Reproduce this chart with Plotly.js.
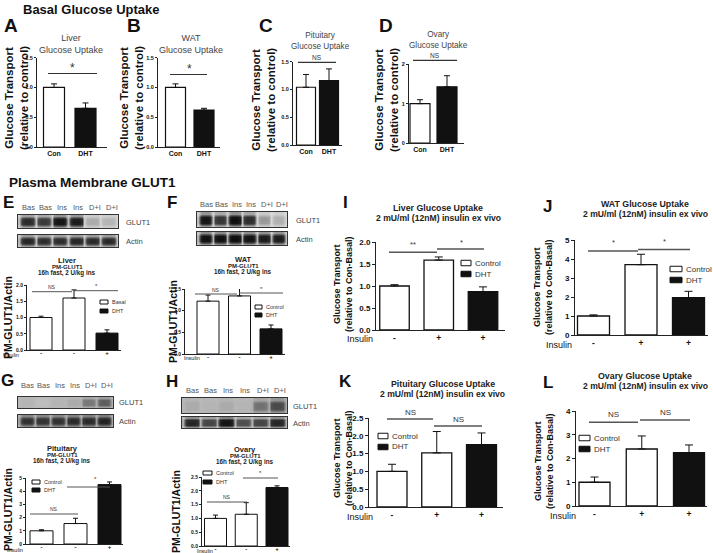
<!DOCTYPE html>
<html><head><meta charset="utf-8">
<script src="https://cdn.plot.ly/plotly-3.0.1.min.js"></script>
<style>html,body{margin:0;padding:0;background:#fff}#chart{width:713px;height:553px}</style>
</head><body><div id="chart"></div>
<script>
// ================= DATA =================
const basalCats = ['Con', 'DHT'];
const liverBasal = [1.00, 0.65];  const liverBasalErr = [0.06, 0.09];
const watBasal   = [1.00, 0.62];  const watBasalErr   = [0.06, 0.03];
const pitBasal   = [1.04, 1.16];  const pitBasalErr   = [0.23, 0.21];
const ovaBasal   = [1.00, 1.43];  const ovaBasalErr   = [0.10, 0.28];

const pmInsulin = ['-', '-', '+'];
const liverPM = [1.00, 1.60, 0.52]; const liverPMErr = [0.04, 0.25, 0.10];
const watPM   = [1.22, 1.34, 0.58]; const watPMErr   = [0.14, 0.18, 0.09];
const pitPM   = [1.00, 1.55, 4.50]; const pitPMErr   = [0.08, 0.40, 0.20];
const ovaPM   = [1.00, 1.15, 2.12]; const ovaPMErr   = [0.12, 0.42, 0.06];

const exInsulin = ['-', '+', '+'];
const liverEx = [1.00, 1.59, 0.87]; const liverExErr = [0.03, 0.07, 0.11];
const watEx   = [1.00, 3.70, 1.97]; const watExErr   = [0.06, 0.55, 0.33];
const pitEx   = [1.00, 1.52, 1.75]; const pitExErr   = [0.20, 0.60, 0.33];
const ovaEx   = [1.00, 2.40, 2.25]; const ovaExErr   = [0.22, 0.55, 0.32];

const ticks15 = [0, 0.5, 1.0, 1.5];
const ticks2i = [0, 1, 2];
const ticks20 = [0, 0.5, 1.0, 1.5, 2.0];
const ticks5  = [0, 1, 2, 3, 4, 5];
const ticks25 = [0, 0.5, 1.0, 1.5, 2.0, 2.5];
const ticks4  = [0, 1, 2, 3, 4];

const laneLabels = ['Bas', 'Bas', 'Ins', 'Ins', 'D+I', 'D+I'];
// western blot band intensities (0 = blank, 1 = darkest)
const liverGlut1 = [0.82, 0.74, 0.94, 0.90, 0.34, 0.30];
const liverActin = [0.84, 0.80, 0.80, 0.84, 0.82, 0.82];
const watGlut1   = [0.94, 0.76, 0.98, 0.80, 0.40, 0.32];
const watActin   = [0.97, 0.97, 0.99, 0.95, 0.90, 0.90];
const pitGlut1   = [0.30, 0.26, 0.30, 0.34, 0.50, 0.58];
const pitActin   = [0.78, 0.78, 0.78, 0.82, 0.82, 0.86];
const ovaGlut1   = [0.34, 0.30, 0.34, 0.30, 0.52, 0.66];
const ovaActin   = [0.84, 0.68, 0.94, 0.64, 0.68, 0.84];

// ================= LAYOUT / STYLE =================
const W = 713, H = 553;
const FONT = 'Liberation Sans, Arial, Helvetica, sans-serif';
const px = x => x / W, py = y => 1 - y / H;
const fmt = (v, d) => v.toFixed(d);

const styles = {
  basal: {ytf: 5.5, xtf: 7, tl: 2, cap: 3, lw: 1.2, so: 0},
  pm:    {ytf: 5,   xtf: 6, tl: 2, cap: 2.5, lw: 1, so: -3},
  ex:    {ytf: 8,   xtf: 8.5, tl: 3, cap: 4, lw: 1.3, so: 0}
};
const W2 = ['#ffffff', '#111111'];
const W3 = ['#ffffff', '#ffffff', '#111111'];

const charts = [
  {v: liverBasal, e: liverBasalErr, lab: basalCats, col: W2, tk: ticks15, dec: 1, s: 'basal', axL: 37,  axR: 107, top: 57.7, bot: 147, c0: 54,    cN: 85.5,  bw: 21},
  {v: watBasal,   e: watBasalErr,   lab: basalCats, col: W2, tk: ticks15, dec: 1, s: 'basal', axL: 158, axR: 220, top: 57.7, bot: 147, c0: 175.5, cN: 204,   bw: 20},
  {v: pitBasal,   e: pitBasalErr,   lab: basalCats, col: W2, tk: ticks15, dec: 1, s: 'basal', axL: 293, axR: 342, top: 61.7, bot: 145, c0: 306,   cN: 329,   bw: 19},
  {v: ovaBasal,   e: ovaBasalErr,   lab: basalCats, col: W2, tk: ticks2i, dec: 0, s: 'basal', axL: 409, axR: 464, top: 64.3, bot: 143, c0: 420,   cN: 447,   bw: 20},
  {v: liverPM, e: liverPMErr, lab: pmInsulin, col: W3, tk: ticks20, dec: 1, s: 'pm', axL: 27,  axR: 121, top: 285, bot: 350, c0: 41,    cN: 107,   bw: 22},
  {v: watPM,   e: watPMErr,   lab: pmInsulin, col: W3, tk: ticks15, dec: 1, s: 'pm', axL: 185, axR: 285, top: 289, bot: 354, c0: 208,   cN: 271,   bw: 22},
  {v: pitPM,   e: pitPMErr,   lab: pmInsulin, col: W3, tk: ticks5,  dec: 0, s: 'pm', axL: 26,  axR: 123, top: 478, bot: 544, c0: 41.5,  cN: 109.5, bw: 23},
  {v: ovaPM,   e: ovaPMErr,   lab: pmInsulin, col: W3, tk: ticks25, dec: 1, s: 'pm', axL: 202, axR: 290, top: 477, bot: 546, c0: 215.5, cN: 277,   bw: 22},
  {v: liverEx, e: liverExErr, lab: exInsulin, col: W3, tk: ticks20, dec: 1, s: 'ex', axL: 376, axR: 505, top: 242, bot: 330, c0: 394.5, cN: 483,   bw: 29.5},
  {v: watEx,   e: watExErr,   lab: exInsulin, col: W3, tk: ticks5,  dec: 0, s: 'ex', axL: 575, axR: 708, top: 240, bot: 335, c0: 593.5, cN: 688.5, bw: 32},
  {v: pitEx,   e: pitExErr,   lab: exInsulin, col: W3, tk: ticks25, dec: 1, s: 'ex', axL: 369, axR: 503, top: 418, bot: 507, c0: 392,   cN: 481.5, bw: 30},
  {v: ovaEx,   e: ovaExErr,   lab: exInsulin, col: W3, tk: ticks4,  dec: 0, s: 'ex', axL: 576, axR: 707, top: 411, bot: 506, c0: 594.5, cN: 689,   bw: 31}
];

const blots = [
  {b: liverGlut1, bg: 0.14, x0: 18,  x1: 118, y0: 215, y1: 228},
  {b: liverActin, bg: 0.16, x0: 18,  x1: 118, y0: 235, y1: 247},
  {b: watGlut1,   bg: 0.12, x0: 197, x1: 287, y0: 212, y1: 227},
  {b: watActin,   bg: 0.16, x0: 197, x1: 287, y0: 232, y1: 245},
  {b: pitGlut1,   bg: 0.28, x0: 18,  x1: 113, y0: 397, y1: 408},
  {b: pitActin,   bg: 0.28, x0: 18,  x1: 113, y0: 415, y1: 427},
  {b: ovaGlut1,   bg: 0.28, x0: 182, x1: 287, y0: 398, y1: 413},
  {b: ovaActin,   bg: 0.22, x0: 182, x1: 287, y0: 417, y1: 428}
];

const data = [];
const layout = {
  width: W, height: H, margin: {l: 0, r: 0, t: 0, b: 0},
  paper_bgcolor: '#ffffff', plot_bgcolor: 'rgba(0,0,0,0)',
  showlegend: false, font: {family: FONT, color: '#111'},
  shapes: [], annotations: []
};

let n = 0;
charts.forEach(c => {
  n++;
  const st = styles[c.s];
  const xa = n === 1 ? 'x' : 'x' + n, ya = n === 1 ? 'y' : 'y' + n;
  const u = (c.cN - c.c0) / (c.v.length - 1);
  const idx = c.v.map((_, i) => i);
  data.push({
    type: 'bar', x: idx, y: c.v, width: c.bw / u, xaxis: xa, yaxis: ya,
    marker: {color: c.col, line: {color: '#111', width: st.lw}},
    error_y: {type: 'data', symmetric: false, array: c.e, arrayminus: c.e.map(() => 0),
              color: '#111', thickness: 1, width: st.cap},
    hoverinfo: 'skip', showlegend: false
  });
  layout[n === 1 ? 'xaxis' : 'xaxis' + n] = {
    domain: [px(c.axL), px(c.axR)], range: [(c.axL - c.c0) / u, (c.axR - c.c0) / u],
    anchor: ya, showline: true, linecolor: '#222', linewidth: 1, ticks: '',
    ticklabelstandoff: st.so,
    tickvals: idx, ticktext: c.lab, tickfont: {size: st.xtf, family: FONT, weight: 'bold', color: '#111'},
    showgrid: false, zeroline: false, fixedrange: true
  };
  layout[n === 1 ? 'yaxis' : 'yaxis' + n] = {
    domain: [py(c.bot), py(c.top)], range: [0, c.tk[c.tk.length - 1]],
    anchor: xa, showline: true, linecolor: '#222', linewidth: 1,
    ticks: 'outside', ticklen: st.tl, tickwidth: 1, tickcolor: '#222',
    tickvals: c.tk, ticktext: c.tk.map(t => fmt(t, c.dec)),
    tickfont: {size: st.ytf, family: FONT, weight: 'bold', color: '#111'},
    showgrid: false, zeroline: false, fixedrange: true
  };
});

// western blots as smoothed heatmaps
blots.forEach(bl => {
  n++;
  const xa = 'x' + n, ya = 'y' + n;
  const colW = [0.2, 0.9, 1, 1, 1, 0.9];
  const rowW = [0.35, 0.95, 1, 0.95, 0.35];
  const xs = [];
  for (let k = 0; k <= 36; k++) xs.push(k / 6);
  const z = rowW.map(rw => xs.map((_, k) => {
    const lane = Math.min(Math.floor(k / 6), 5);
    const w = k === 36 ? 0.15 : colW[k % 6];
    return bl.bg + (bl.b[lane] - bl.bg) * w * rw;
  }));
  data.push({
    type: 'heatmap', z: z, x: xs, y: [0, 1, 2, 3, 4], zmin: 0, zmax: 1, zsmooth: 'best',
    colorscale: [[0, '#f2f2f2'], [0.15, '#d8d8d8'], [0.35, '#a8a8a8'], [0.6, '#555555'], [0.85, '#222222'], [1, '#0a0a0a']],
    showscale: false, hoverinfo: 'skip', xaxis: xa, yaxis: ya
  });
  layout['xaxis' + n] = {domain: [px(bl.x0), px(bl.x1)], range: [-1 / 12, 6 + 1 / 12], anchor: ya,
    showline: true, mirror: true, linecolor: '#333', linewidth: 1, ticks: '', showticklabels: false,
    showgrid: false, zeroline: false, fixedrange: true};
  layout['yaxis' + n] = {domain: [py(bl.y1), py(bl.y0)], range: [-0.5, 4.5], anchor: xa,
    showline: true, mirror: true, linecolor: '#333', linewidth: 1, ticks: '', showticklabels: false,
    showgrid: false, zeroline: false, fixedrange: true};
});

// ---------- helpers for text / shapes ----------
function ann(text, x, y, size, o) {
  o = o || {};
  layout.annotations.push(Object.assign({
    text: text, x: px(x), y: py(y), xref: 'paper', yref: 'paper', showarrow: false,
    xanchor: 'center', yanchor: 'middle', borderpad: 0,
    font: {family: FONT, size: size, color: o.color || '#111', weight: o.bold ? 'bold' : 'normal'}
  }, o.extra || {}));
}
function hline(x0, x1, y, color, w) {
  layout.shapes.push({type: 'line', xref: 'paper', yref: 'paper', x0: px(x0), x1: px(x1), y0: py(y), y1: py(y),
    line: {color: color, width: w}});
}
function box(x0, x1, yc, h, fill) {
  layout.shapes.push({type: 'rect', xref: 'paper', yref: 'paper', x0: px(x0), x1: px(x1),
    y0: py(yc + h / 2), y1: py(yc - h / 2), fillcolor: fill, line: {color: '#111', width: 1}});
}

// headings
ann('Basal Glucose Uptake', 22, 9.5, 13, {bold: true, extra: {xanchor: 'left'}});
ann('Plasma Membrane GLUT1', 8, 182.5, 13.5, {bold: true, extra: {xanchor: 'left'}});

// panel letters
[['A', 11, 26, 19], ['B', 134, 26, 19], ['C', 266, 26, 19], ['D', 386, 26, 19],
 ['E', 8, 203, 17], ['F', 172, 203, 17], ['G', 7, 380, 17], ['H', 172, 381, 17],
 ['I', 345, 202, 17], ['J', 547, 206, 17], ['K', 345, 381, 17], ['L', 548, 382, 17]]
  .forEach(l => ann(l[0], l[1], l[2], l[3], {bold: true}));

// basal panel titles & y titles
const basalYT = 'Glucose Transport<br>(relative to control)';
ann('Liver<br>Glucose Uptake', 70.5, 44.5, 9, {color: '#444'});
ann('WAT<br>Glucose Uptake', 191, 44.5, 9, {color: '#444'});
ann('Pituitary<br>Glucose Uptake', 320, 40.8, 8.2, {color: '#444'});
ann('Ovary<br>Glucose Uptake', 439, 40, 8.2, {color: '#444'});
[[16, 98], [131, 98], [263, 100], [386, 100]].forEach(p =>
  ann(basalYT, p[0], p[1], 11.5, {bold: true, extra: {textangle: -90}}));

// PM panels
[['Liver', 67, 260], ['WAT', 243, 259.3], ['Pituitary', 62, 448.3], ['Ovary', 245, 449.3]].forEach(t => {
  ann(t[0], t[1], t[2], 7.5, {bold: true, color: '#222'});
  ann('PM-GLUT1', t[1], t[2] + 6.5, 6, {bold: true, color: '#222'});
  ann('16h fast, 2 U/kg ins', t[1], t[2] + 13, 6.3, {bold: true, color: '#222'});
});
[[8, 318], [173, 322], [8, 510], [176, 512]].forEach(p =>
  ann('PM-GLUT1/Actin', p[0], p[1], 10.5, {bold: true, extra: {textangle: -90}}));
[[2, 355], [183, 358], [6, 549.5], [196, 550.5]].forEach(p =>
  ann('Insulin', p[0], p[1], 5.5, {extra: {xanchor: 'left'}}));

// blot labels
[[blots[0], 207], [blots[2], 204], [blots[4], 385], [blots[6], 390]].forEach(pr => {
  const bl = pr[0], lw = (bl.x1 - bl.x0) / 6;
  laneLabels.forEach((t, i) => ann(t, bl.x0 + lw * (i + 0.5) + 2, pr[1], 7.5, {color: '#555'}));
});
[[125, 222, 241], [295, 220, 239], [118, 402, 421], [292, 406, 423]].forEach(p => {
  ann('GLUT1', p[0], p[1], 7.5, {color: '#444', extra: {xanchor: 'left'}});
  ann('Actin', p[0], p[2], 7.5, {color: '#444', extra: {xanchor: 'left'}});
});

// ex vivo panels
[['Liver Glucose Uptake', 438, 208], ['WAT Glucose Uptake', 645, 204.3],
 ['Pituitary Glucose Uptake', 443, 384], ['Ovary Glucose Uptake', 645, 376]].forEach(t => {
  ann(t[0], t[1], t[2], 8.8, {bold: true, color: '#222'});
  ann('2 mU/ml (12nM) insulin ex vivo', t[1], t[2] + 9.5, 8.6, {bold: true, color: '#222'});
});
const exYT = 'Glucose Transport<br>(relative to Con-Basal)';
[[343, 284], [543, 287], [343, 458], [544, 461]].forEach(p =>
  ann(exYT, p[0], p[1], 9, {bold: true, extra: {textangle: -90}}));
[[374, 339], [573, 344.5], [374, 517], [577, 515.5]].forEach(p =>
  ann('Insulin', p[0], p[1], 9, {extra: {xanchor: 'right'}}));

// significance bars
const sig = [
  [48, 97, 73.5, '*', 72, 67.5, 12, 1.2, '#333'], [170, 207, 74.5, '*', 189, 68.5, 12, 1.2, '#333'],
  [298, 336, 62.3, 'NS', 317, 58, 6.5, 1.2, '#333'], [413, 457, 60.3, 'NS', 435, 56, 6.5, 1.2, '#333'],
  [32, 72, 291.7, 'NS', 52, 287, 5, 1, '#555'], [74, 118, 290.7, '*', 96, 286, 6, 1, '#555'],
  [195, 237, 294, 'NS', 216, 289.5, 5, 1, '#555'], [239, 283, 293, '*', 261, 288.5, 6, 1, '#555'],
  [30, 78, 514, 'NS', 54, 509, 5, 1, '#555'], [67, 110, 487, '*', 95, 479, 6, 1, '#555'],
  [207, 247, 502, 'NS', 227, 496.5, 5, 1, '#555'], [243, 278, 478, '*', 260, 472.5, 6, 1, '#555'],
  [389, 437, 252.3, '**', 413, 245, 7.5, 1.5, '#555'], [437, 484, 249, '*', 461, 242, 7.5, 1.5, '#555'],
  [588, 638, 251, '*', 613, 242.5, 7.5, 1.5, '#555'], [638, 690, 249.5, '*', 664, 241.5, 7.5, 1.5, '#555'],
  [387, 433, 419, 'NS', 410, 412, 8, 1.5, '#555'], [434, 482, 426, 'NS', 458, 419, 8, 1.5, '#555'],
  [589, 638, 422.3, 'NS', 613, 414, 8, 1.5, '#555'], [640, 690, 420, 'NS', 665, 412.5, 8, 1.5, '#555']
];
sig.forEach(s => { hline(s[0], s[1], s[2], s[8], s[7]); ann(s[3], s[4], s[5], s[6], {color: '#333'}); });

// legends (swatch boxes + text)
const legs = [
  ['Basal', 100, 108, 302, 311, 4, 5.5], ['Control', 255, 262, 307, 315, 4, 5.5],
  ['Control', 32, 40, 482, 490, 4, 5.5], ['Control', 203, 212, 473, 482, 4, 5.5],
  ['Control', 461, 471, 263, 274, 5.5, 8], ['Control', 670, 682, 269, 280, 5.5, 8],
  ['Control', 378, 388, 436, 447, 5.5, 8], ['Control', 579, 590, 438, 449, 5.5, 8]
];
legs.forEach(l => {
  box(l[1], l[2], l[3], l[5], '#ffffff'); box(l[1], l[2], l[4], l[5], '#111111');
  ann(l[0], l[2] + 3, l[3], l[6], {color: '#333', extra: {xanchor: 'left'}});
  ann('DHT', l[2] + 3, l[4], l[6], {color: '#333', extra: {xanchor: 'left'}});
});

Plotly.newPlot('chart', data, layout, {displayModeBar: false, staticPlot: true});
</script>
</body></html>
